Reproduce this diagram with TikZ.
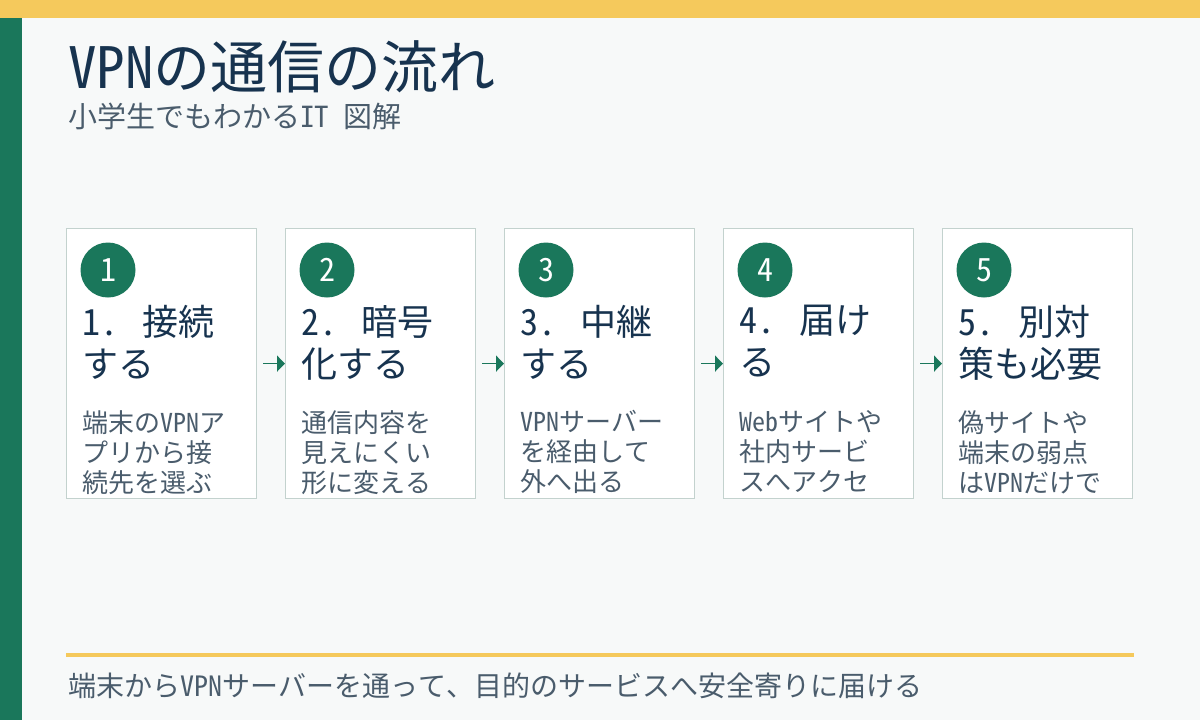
\documentclass[tikz,border=0pt]{standalone}
\usepackage{fontspec}
\setmainfont{Noto Sans Mono CJK JP}
\usetikzlibrary{arrows.meta,positioning}

\definecolor{barYellow}{HTML}{F5C95C}
\definecolor{barGreen}{HTML}{1A775B}
\definecolor{pageBg}{HTML}{F7F9F9}
\definecolor{boxLine}{HTML}{C3D2CE}
\definecolor{titleNavy}{HTML}{17334F}
\definecolor{bodyGray}{HTML}{4A5C6C}

\tikzset{
  stepbox/.style={draw=boxLine, fill=white, line width=0.6pt, minimum width=95pt, minimum height=135pt, inner sep=0pt, anchor=north west},
  badge/.style={circle, fill=barGreen, text=white, minimum size=27.5pt, inner sep=0pt, font=\fontsize{16}{16}\selectfont},
  headtxt/.style={anchor=north west, inner sep=0pt, align=left, text=titleNavy, font=\fontsize{18}{21}\selectfont},
  bodytxt/.style={anchor=north west, inner sep=0pt, align=left, text=bodyGray, font=\fontsize{13}{15}\selectfont},
  flow/.style={draw=barGreen, line width=0.7pt, -{Triangle[length=4pt,width=8pt]}, shorten <=3pt}
}

\begin{document}
\begin{tikzpicture}[x=0.5pt,y=-0.5pt]

\useasboundingbox (0,0) rectangle (1200,720);
\fill[pageBg] (0,0) rectangle (1200,720);
\fill[barYellow] (0,0) rectangle (1200,18);
\fill[barGreen] (0,18) rectangle (22,720);

% title
\node[anchor=north west, inner sep=0pt, text=titleNavy, font=\fontsize{28.5}{28.5}\selectfont] (title) at (68,40) {VPNの通信の流れ};
\node[anchor=north west, inner sep=0pt, text=bodyGray, font=\fontsize{14.5}{14.5}\selectfont] (subtitle) at (68,103) {小学生でもわかるIT 図解};

% step 1
\node[stepbox] (box1) at (66,228) {};
\node[badge] (num1) at (108,270) {1};
\node[headtxt] (head1) at (82,305) {1. 接続\\する};
\node[bodytxt] (body1) at (82,410) {端末のVPNア\\プリから接\\続先を選ぶ};

% step 2
\node[stepbox] (box2) at (285,228) {};
\node[badge] (num2) at (327,270) {2};
\node[headtxt] (head2) at (301,305) {2. 暗号\\化する};
\node[bodytxt] (body2) at (301,410) {通信内容を\\見えにくい\\形に変える};

% step 3
\node[stepbox] (box3) at (504,228) {};
\node[badge] (num3) at (546,270) {3};
\node[headtxt] (head3) at (520,305) {3. 中継\\する};
\node[bodytxt] (body3) at (520,410) {VPNサーバー\\を経由して\\外へ出る};

% step 4
\node[stepbox] (box4) at (723,228) {};
\node[badge] (num4) at (765,270) {4};
\node[headtxt] (head4) at (739,305) {4. 届け\\る};
\node[bodytxt] (body4) at (739,410) {Webサイトや\\社内サービ\\スへアクセ};

% step 5
\node[stepbox] (box5) at (942,228) {};
\node[badge] (num5) at (984,270) {5};
\node[headtxt] (head5) at (958,305) {5. 別対\\策も必要};
\node[bodytxt] (body5) at (958,410) {偽サイトや\\端末の弱点\\はVPNだけで};

% arrows
\draw[flow] (box1) -- (box2);
\draw[flow] (box2) -- (box3);
\draw[flow] (box3) -- (box4);
\draw[flow] (box4) -- (box5);

% footer
\draw[barYellow, line width=2pt] (66,655) -- (1134,655);
\node[anchor=north west, inner sep=0pt, text=bodyGray, font=\fontsize{14}{14}\selectfont] (footer) at (68,672) {端末からVPNサーバーを通って、目的のサービスへ安全寄りに届ける};

\end{tikzpicture}
\end{document}
